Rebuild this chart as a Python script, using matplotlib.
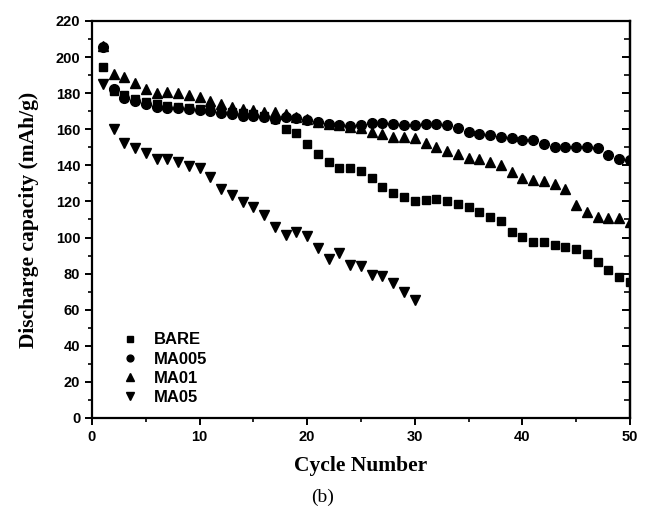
import numpy as np
import matplotlib
matplotlib.use('Agg')
import matplotlib.pyplot as plt
from matplotlib.ticker import MultipleLocator, NullFormatter

# cycle numbers
cycles = np.arange(1, 51)
cycles_ma05 = np.arange(1, 31)

# discharge capacity (mAh/g)
bare = [194.5, 181.0, 179.0, 176.6, 175.3, 174.0, 173.0, 172.5, 172.0, 171.5,
        171.0, 170.0, 169.5, 169.0, 168.5, 167.5, 165.5, 160.0, 158.0, 152.0,
        146.3, 142.0, 138.5, 138.4, 136.9, 132.8, 128.2, 124.9, 122.7, 120.4,
        121.0, 121.4, 120.1, 118.6, 116.7, 114.3, 111.2, 109.2, 102.9, 100.5,
        97.7, 97.7, 95.9, 94.9, 93.5, 90.9, 86.6, 82.0, 78.3, 75.6]
ma005 = [205.5, 182.5, 177.5, 175.5, 174.0, 172.5, 171.6, 171.6, 171.0, 170.7,
         170.0, 169.2, 168.3, 167.6, 167.6, 166.7, 165.5, 167.0, 166.0, 165.3,
         163.8, 163.0, 162.4, 162.0, 162.4, 163.3, 163.3, 162.8, 162.4, 162.4,
         162.8, 162.8, 162.4, 160.5, 158.7, 157.4, 156.9, 155.9, 155.0, 154.1,
         154.1, 151.8, 150.4, 150.4, 150.4, 150.4, 149.4, 145.7, 143.4, 143.0]
ma01 = [206.0, 190.6, 189.2, 185.8, 182.1, 180.3, 180.8, 180.0, 179.0, 177.7,
        175.8, 174.0, 172.5, 171.5, 170.7, 169.7, 169.4, 168.5, 167.0, 165.5,
        164.0, 163.0, 162.4, 161.5, 160.5, 158.7, 157.4, 155.9, 155.9, 155.0,
        152.6, 150.4, 148.1, 146.3, 144.3, 143.4, 142.0, 140.2, 136.1, 132.8,
        132.0, 131.4, 129.5, 126.7, 118.0, 114.0, 111.6, 110.7, 110.7, 108.8]
ma05 = [185.0, 160.0, 152.6, 149.4, 147.0, 143.3, 143.3, 141.7, 139.6, 138.4,
        133.7, 126.7, 123.6, 119.9, 117.0, 112.3, 106.0, 101.4, 103.3, 100.9,
        94.0, 88.0, 91.6, 85.0, 84.0, 79.0, 78.8, 75.0, 70.0, 65.4]

SANS = ['Liberation Sans', 'DejaVu Sans']
SERIF = ['Liberation Serif', 'DejaVu Serif']

fig = plt.figure(figsize=(6.51, 5.21), dpi=100)
ax = fig.add_axes([0.1413, 0.1977, 0.8264, 0.762])

ax.plot(cycles, bare, ls='none', marker='s', ms=6, color='black', label='BARE')
ax.plot(cycles, ma005, ls='none', marker='o', ms=7, color='black', label='MA005')
ax.plot(cycles, ma01, ls='none', marker='^', ms=7.5, color='black', label='MA01')
ax.plot(cycles_ma05, ma05, ls='none', marker='v', ms=7.5, color='black', label='MA05')

ax.set_xlim(0, 50)
ax.set_ylim(0, 220)
ax.xaxis.set_major_locator(MultipleLocator(10))
ax.xaxis.set_minor_locator(MultipleLocator(5))
ax.yaxis.set_major_locator(MultipleLocator(20))
ax.yaxis.set_minor_locator(MultipleLocator(10))

for sp in ax.spines.values():
    sp.set_linewidth(1.6)

ax.tick_params(which='major', direction='out', length=5, width=1.4, top=False, right=False)
ax.tick_params(which='minor', direction='out', length=3, width=1.2, top=False, right=False)

# right side: ticks pointing inward, no labels
rax = ax.secondary_yaxis('right')
rax.yaxis.set_major_locator(MultipleLocator(20))
rax.yaxis.set_minor_locator(MultipleLocator(10))
rax.yaxis.set_major_formatter(NullFormatter())
rax.tick_params(which='major', direction='in', length=6, width=1.4)
rax.tick_params(which='minor', direction='in', length=4, width=1.2)
rax.spines['right'].set_linewidth(1.6)

for lab in ax.get_xticklabels() + ax.get_yticklabels():
    lab.set_family(SANS)
    lab.set_fontweight('bold')
    lab.set_fontsize(10.5)

ax.set_xlabel('Cycle Number', family=SERIF, fontweight='bold', fontsize=15.5, labelpad=9)
ax.set_ylabel('Discharge capacity (mAh/g)', family=SERIF, fontweight='bold', fontsize=15.5, labelpad=12)

leg = ax.legend(loc='lower left', bbox_to_anchor=(0.025, -0.005), frameon=False,
                prop={'family': SANS, 'weight': 'bold', 'size': 12},
                handlelength=1.2, handletextpad=0.8, labelspacing=0.25, markerscale=0.7)

fig.text(0.495, 0.045, '(b)', family=SERIF, fontsize=14, ha='center', va='center')

fig.savefig('out.png', dpi=100)
